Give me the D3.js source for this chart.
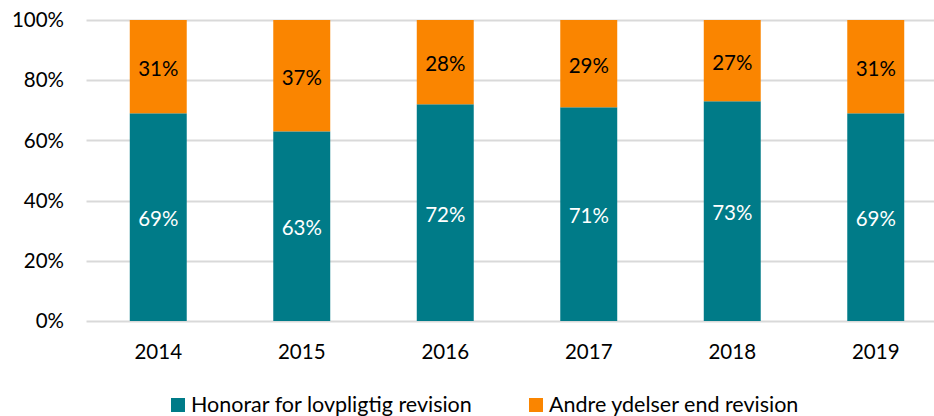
<!DOCTYPE html>
<html>
<head>
<meta charset="utf-8">
<script src="https://cdn.jsdelivr.net/npm/d3@7"></script>
<style>
  body { margin: 0; background: #fff; }
  svg { display: block; font-family: Lato, "Open Sans", sans-serif; }
</style>
</head>
<body>
<div id="chart"></div>
<script>
// data
const years = ['2014', '2015', '2016', '2017', '2018', '2019'];
const honorar = [0.69, 0.63, 0.72, 0.71, 0.73, 0.69];
const andre = [0.31, 0.37, 0.28, 0.29, 0.27, 0.31];
const seriesNames = ['Honorar for lovpligtig revision', 'Andre ydelser end revision'];
const yTicks = [0, 0.2, 0.4, 0.6, 0.8, 1];

const width = 934;
const height = 416;
const colors = ['#007b88', '#fa8500'];
const fontSize = 20.5;

const rows = years.map((y, i) => ({ year: y, honorar: honorar[i], andre: andre[i] }));
const stack = d3.stack().keys(['honorar', 'andre'])(rows);

const x = d3.scaleBand().domain(years).range([86.5, 947.5]).paddingInner(0.603).paddingOuter(0.3015);
const y = d3.scaleLinear().domain([0, 1]).range([321, 20]);

const svg = d3.select('#chart').append('svg')
  .attr('width', width)
  .attr('height', height);

// gridlines
svg.append('g')
  .selectAll('line').data(yTicks)
  .enter().append('line')
  .attr('x1', 86.5)
  .attr('x2', width)
  .attr('y1', d => Math.round(y(d)) + 0.5)
  .attr('y2', d => Math.round(y(d)) + 0.5)
  .attr('stroke', '#d9d9d9')
  .attr('stroke-width', 2);

// y axis labels
svg.append('g')
  .selectAll('text').data(yTicks)
  .enter().append('text')
  .attr('x', 64)
  .attr('y', d => y(d))
  .attr('dy', '0.35em')
  .attr('text-anchor', 'end')
  .attr('font-size', fontSize)
  .attr('fill', '#000')
  .text(d3.format('.0%'));

// x axis labels
svg.append('g')
  .selectAll('text').data(years)
  .enter().append('text')
  .attr('x', d => x(d) + x.bandwidth() / 2)
  .attr('y', 352)
  .attr('dy', '0.35em')
  .attr('text-anchor', 'middle')
  .attr('font-size', fontSize)
  .attr('fill', '#000')
  .text(d => d);

// bars
const layers = svg.append('g')
  .selectAll('g').data(stack)
  .enter().append('g')
  .attr('fill', (_, i) => colors[i]);

layers.selectAll('rect')
  .data(d => d)
  .enter().append('rect')
  .attr('x', d => x(d.data.year))
  .attr('width', x.bandwidth())
  .attr('y', d => y(d[1]))
  .attr('height', d => y(d[0]) - y(d[1]));

// value labels
layers.selectAll('text')
  .data(d => d)
  .enter().append('text')
  .attr('x', d => x(d.data.year) + x.bandwidth() / 2)
  .attr('y', d => (y(d[0]) + y(d[1])) / 2 + 2)
  .attr('dy', '0.35em')
  .attr('text-anchor', 'middle')
  .attr('font-size', fontSize)
  .attr('fill', function () {
    return d3.select(this.parentNode).datum().key === 'honorar' ? '#fff' : '#000';
  })
  .text(d => d3.format('.0%')(d[1] - d[0]));

// legend
const legendX = [171, 529];
const legend = svg.append('g')
  .selectAll('g').data(seriesNames)
  .enter().append('g')
  .attr('transform', (_, i) => `translate(${legendX[i]}, 404)`);

legend.append('rect')
  .attr('x', 0)
  .attr('y', -6)
  .attr('width', 14)
  .attr('height', 14)
  .attr('fill', (_, i) => colors[i]);

legend.append('text')
  .attr('x', 20)
  .attr('y', 0)
  .attr('dy', '0.35em')
  .attr('font-size', 21.5)
  .attr('fill', '#000')
  .text(d => d);
</script>
</body>
</html>
